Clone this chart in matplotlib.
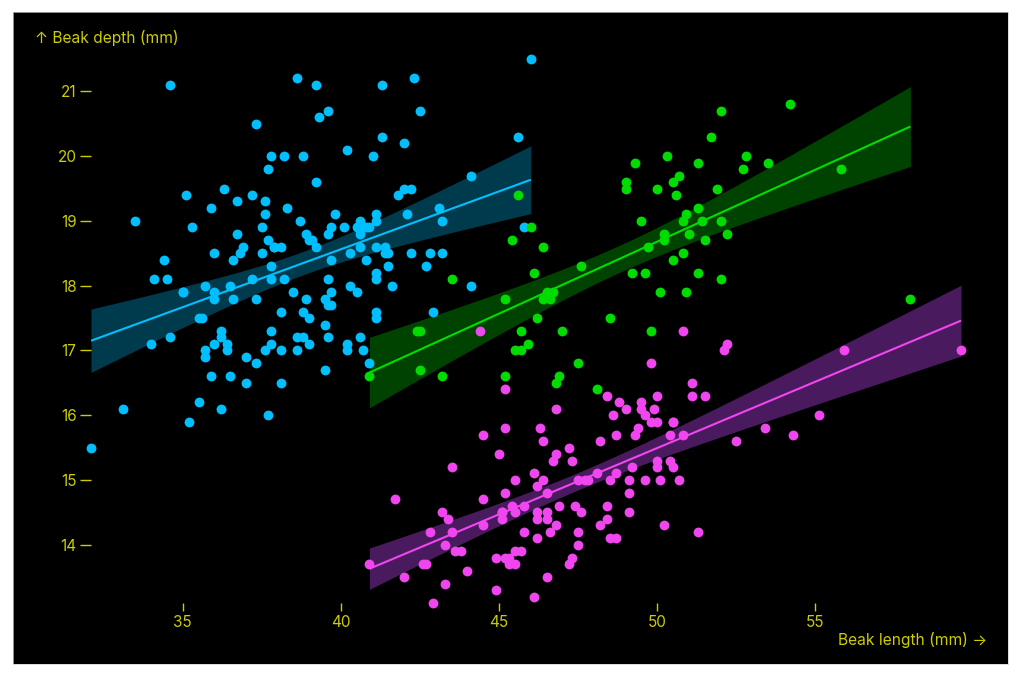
import numpy as np
import matplotlib
matplotlib.use("Agg")
import matplotlib.pyplot as plt

# ---------------- data (Palmer penguins) ----------------
adelie_length = [
    39.1, 39.5, 40.3, 36.7, 39.3, 38.9, 39.2, 34.1, 42.0, 37.8, 37.8, 41.1, 38.6, 34.6, 36.6, 38.7, 42.5, 34.4, 46.0,
    37.8, 37.7, 35.9, 38.2, 38.8, 35.3, 40.6, 40.5, 37.9, 40.5,
    39.5, 37.2, 39.5, 40.9, 36.4, 39.2, 38.8, 42.2, 37.6, 39.8, 36.5, 40.8, 36.0, 44.1, 37.0, 39.6, 41.1, 37.5, 36.0, 42.3,
    39.6, 40.1, 35.0, 42.0, 34.5, 41.4, 39.0, 40.6, 36.5, 37.6, 35.7, 41.3, 37.6, 41.1, 36.4, 41.6, 35.5, 41.1,
    35.9, 41.8, 33.5, 39.7, 39.6, 45.8, 35.5, 42.8, 40.9, 37.2, 36.2, 42.1, 34.6, 42.9, 36.7, 35.1,
    37.3, 41.3, 36.3, 36.9, 38.3, 38.9, 35.7, 41.1, 34.0, 39.6, 36.2, 40.8, 38.1, 40.3, 33.1, 43.2,
    35.0, 41.0, 37.7, 37.8, 37.9, 39.7, 38.6, 38.2, 38.1, 43.2, 38.1, 45.6, 39.7, 42.2, 39.6, 42.7,
    38.6, 37.3, 35.7, 41.1, 36.2, 37.7, 40.2, 41.4, 35.2, 40.6, 38.8, 41.5, 39.0, 44.1, 38.5, 43.1,
    36.8, 37.5, 38.1, 41.1, 35.6, 40.2, 37.0, 39.7, 40.2, 40.6, 32.1, 40.7, 37.3, 39.0, 39.2, 36.6, 36.0, 37.8, 36.0, 41.5,
]
adelie_depth = [
    18.7, 17.4, 18.0, 19.3, 20.6, 17.8, 19.6, 18.1, 20.2, 17.1, 17.3, 17.6, 21.2, 21.1, 17.8, 19.0, 20.7, 18.4, 21.5,
    18.3, 18.7, 19.2, 18.1, 17.2, 18.9, 18.6, 17.9, 18.6, 18.9,
    16.7, 18.1, 17.8, 18.9, 17.0, 21.1, 20.0, 18.5, 19.3, 19.1, 18.0, 18.4, 18.5, 19.7, 16.9, 18.8, 19.0, 18.9, 17.9, 21.2,
    17.7, 18.9, 17.9, 19.5, 18.1, 18.6, 17.5, 18.8, 16.6, 19.1, 16.9, 21.1, 17.0, 18.2, 17.1, 18.0, 16.2, 19.1,
    16.6, 19.4, 19.0, 18.4, 17.2, 18.9, 17.5, 18.5, 16.8, 19.4, 16.1, 19.1, 17.2, 17.6, 18.8, 19.4,
    17.8, 20.3, 19.5, 18.6, 19.2, 18.8, 18.0, 18.1, 17.1, 18.1, 17.3, 18.9, 18.6, 18.5, 16.1, 18.5,
    17.9, 20.0, 16.0, 20.0, 18.6, 18.9, 17.2, 20.0, 17.0, 19.0, 16.5, 20.3, 17.7, 19.5, 20.7, 18.3,
    17.0, 20.5, 17.0, 18.6, 17.2, 19.8, 17.0, 18.5, 15.9, 19.0, 17.6, 18.3, 17.1, 18.0, 17.9, 19.2,
    18.5, 18.5, 17.6, 17.5, 17.5, 20.1, 16.5, 17.9, 17.1, 17.2, 15.5, 17.0, 16.8, 18.7, 18.6, 18.4, 17.8, 18.1, 17.1, 18.5,
]
gentoo_length = [
    46.1, 50.0, 48.7, 50.0, 47.6, 46.5, 45.4, 46.7, 43.3, 46.8, 40.9, 49.0, 45.5, 48.4, 45.8, 49.3, 42.0, 49.2, 46.2, 48.7,
    50.2, 45.1, 46.5, 46.3, 42.9, 46.1, 44.5, 47.8, 48.2, 50.0, 47.3, 42.8, 45.1, 59.6, 49.1, 48.4, 42.6, 44.4, 44.0, 48.7,
    42.7, 49.6, 45.3, 49.6, 50.5, 43.6, 45.5, 50.5, 44.9, 45.2, 46.6, 48.5, 45.1, 50.1, 46.5, 45.0, 43.8, 45.5, 43.2, 50.4,
    45.3, 46.2, 45.7, 54.3, 45.8, 49.8, 46.2, 49.5, 43.5, 50.7, 47.7, 46.4, 48.2, 46.5, 46.4, 48.6, 47.5, 51.1, 45.2, 45.2,
    49.1, 52.5, 47.4, 50.0, 44.9, 50.8, 43.4, 51.3, 47.5, 52.1, 47.5, 52.2, 45.5, 49.5, 44.5, 50.8, 49.4, 46.9, 48.4, 51.1,
    48.5, 55.9, 47.2, 49.1, 47.3, 46.8, 41.7, 53.4, 43.3, 48.1, 50.5, 49.8, 43.5, 51.5, 46.2, 55.1, 44.5, 48.8, 47.2, 46.8,
    50.4, 45.2, 49.9,
]
gentoo_depth = [
    13.2, 16.3, 14.1, 15.2, 14.5, 13.5, 14.6, 15.3, 13.4, 15.4, 13.7, 16.1, 13.7, 14.6, 14.6, 15.7, 13.5, 15.2, 14.5, 15.1,
    14.3, 14.5, 14.5, 15.8, 13.1, 15.1, 14.3, 15.0, 14.3, 15.3, 15.3, 14.2, 14.5, 17.0, 14.8, 16.3, 13.7, 17.3, 13.6, 15.7,
    13.7, 16.0, 13.7, 15.0, 15.9, 13.9, 13.9, 15.9, 13.3, 15.8, 14.2, 14.1, 14.4, 15.0, 14.4, 15.4, 13.9, 15.0, 14.5, 15.3,
    13.8, 14.9, 13.9, 15.7, 14.2, 16.8, 14.4, 16.2, 14.2, 15.0, 15.0, 15.6, 15.6, 14.8, 15.0, 16.0, 14.2, 16.3, 13.8, 16.4,
    14.5, 15.6, 14.6, 15.9, 13.8, 17.3, 14.4, 14.2, 14.0, 17.0, 15.0, 17.1, 14.5, 16.1, 14.7, 15.7, 15.8, 14.6, 14.4, 16.5,
    15.0, 17.0, 15.5, 15.0, 13.8, 16.1, 14.7, 15.8, 14.0, 15.1, 15.2, 15.9, 15.2, 16.3, 14.1, 16.0, 15.7, 16.2, 13.7, 14.3,
    15.7, 14.8, 16.1,
]
chinstrap_length = [
    46.5, 50.0, 51.3, 45.4, 52.7, 45.2, 46.1, 51.3, 46.0, 51.3, 46.6, 51.7, 47.0, 52.0, 45.9, 50.5, 50.3, 58.0, 46.4, 49.2,
    42.4, 48.5, 43.2, 50.6, 46.7, 52.0, 50.5, 49.5, 46.4, 52.8, 40.9, 54.2, 42.5, 51.0, 49.7, 47.5, 47.6, 52.0, 46.9, 53.5,
    49.0, 46.2, 50.9, 45.5, 50.9, 50.8, 50.1, 49.0, 51.5, 49.8, 48.1, 51.4, 45.7, 50.7, 42.5, 52.2, 45.2, 49.3, 50.2, 45.6,
    51.9, 46.8, 45.7, 55.8, 43.5, 49.6, 50.8, 50.2,
]
chinstrap_depth = [
    17.9, 19.5, 19.2, 18.7, 19.8, 17.8, 18.2, 18.2, 18.9, 19.9, 17.8, 20.3, 17.3, 18.1, 17.1, 19.6, 20.0, 17.8, 18.6, 18.2,
    17.3, 17.5, 16.6, 19.4, 17.9, 19.0, 18.4, 19.0, 17.8, 20.0, 16.6, 20.8, 16.7, 18.8, 18.6, 16.8, 18.3, 20.7, 16.6, 19.9,
    19.5, 17.5, 19.1, 17.0, 17.9, 18.5, 17.9, 19.6, 18.7, 17.3, 16.4, 19.0, 17.3, 19.7, 17.3, 18.8, 16.6, 19.9, 18.8, 19.4,
    19.5, 16.5, 17.0, 19.8, 18.1, 18.2, 19.0, 18.7,
]

species = ["Adelie", "Gentoo", "Chinstrap"]
colors = {"Adelie": "#00bfff", "Gentoo": "#f046f0", "Chinstrap": "#00dc00"}
band_colors = {"Adelie": "#003a4d", "Gentoo": "#4a1a5e", "Chinstrap": "#004200"}
x_ticks = [35, 40, 45, 50, 55]
y_ticks = [14, 15, 16, 17, 18, 19, 20, 21]
x_label = "Beak length (mm) →"
y_label = "↑ Beak depth (mm)"

series = {
    "Adelie": (adelie_length, adelie_depth),
    "Gentoo": (gentoo_length, gentoo_depth),
    "Chinstrap": (chinstrap_length, chinstrap_depth),
}

TXT = "#cccc00"
plt.rcParams["font.family"] = ["Inter", "DejaVu Sans"]

W, H = 1023, 673
fig = plt.figure(figsize=(W / 100, H / 100), dpi=100, facecolor="white")

def px(x, y):
    return x / W, 1 - y / H

# black panel (behind everything)
bg = fig.add_axes([13 / W, (H - 664) / H, 995 / W, 652 / H], zorder=-10)
bg.set_facecolor("black")
bg.set_xticks([])
bg.set_yticks([])
for s in bg.spines.values():
    s.set_edgecolor("#cccccc")
    s.set_linewidth(0.5)

L, R, T, B = 91, 961, 59, 603
ax = fig.add_axes([L / W, (H - B) / H, (R - L) / W, (B - T) / H], zorder=1)
ax.set_facecolor("none")
for s in ax.spines.values():
    s.set_visible(False)

def t_quantile(df, z=1.959963985):
    return (z + (z**3 + z) / (4 * df) + (5 * z**5 + 16 * z**3 + 3 * z) / (96 * df**2)
            + (3 * z**7 + 19 * z**5 + 17 * z**3 - 15 * z) / (384 * df**3))

# regression bands
for sp in species:
    x = np.asarray(series[sp][0], float)
    y = np.asarray(series[sp][1], float)
    n = len(x)
    slope, icpt = np.polyfit(x, y, 1)
    resid = y - (slope * x + icpt)
    s = np.sqrt(np.sum(resid**2) / (n - 2))
    xm = x.mean()
    sxx = np.sum((x - xm) ** 2)
    xs = np.linspace(x.min(), x.max(), 200)
    ys = slope * xs + icpt
    hw = t_quantile(n - 2) * s * np.sqrt(1 / n + (xs - xm) ** 2 / sxx)
    ax.fill_between(xs, ys - hw, ys + hw, color=band_colors[sp], linewidth=0, zorder=1)

# dots
for sp in species:
    x = np.asarray(series[sp][0], float)
    y = np.asarray(series[sp][1], float)
    ax.scatter(x, y, s=50, color=colors[sp], linewidths=0, zorder=3, clip_on=False)

# regression lines
for sp in species:
    x = np.asarray(series[sp][0], float)
    y = np.asarray(series[sp][1], float)
    slope, icpt = np.polyfit(x, y, 1)
    xs = np.array([x.min(), x.max()])
    ax.plot(xs, slope * xs + icpt, color=colors[sp], lw=1.5, zorder=4, solid_capstyle="butt")

ax.set_xlim(32.1, 59.6)
ax.set_ylim(13.1, 21.5)
ax.set_xticks(x_ticks)
ax.set_yticks(y_ticks)
ax.set_xticklabels([str(v) for v in x_ticks])
ax.set_yticklabels([str(v) for v in y_ticks])
ax.tick_params(axis="y", colors=TXT, labelcolor=TXT, length=8.0, width=1.0, pad=2.5, labelsize=11)
ax.tick_params(axis="x", colors=TXT, labelcolor=TXT, length=5.8, width=1.0, pad=3.0, labelsize=11)

fig.text(*px(35, 38), y_label, color=TXT, fontsize=11.2, ha="left", va="center")
fig.text(*px(987, 640), x_label, color=TXT, fontsize=11.2, ha="right", va="center")

fig.savefig("out.png", dpi=100, facecolor="white")
